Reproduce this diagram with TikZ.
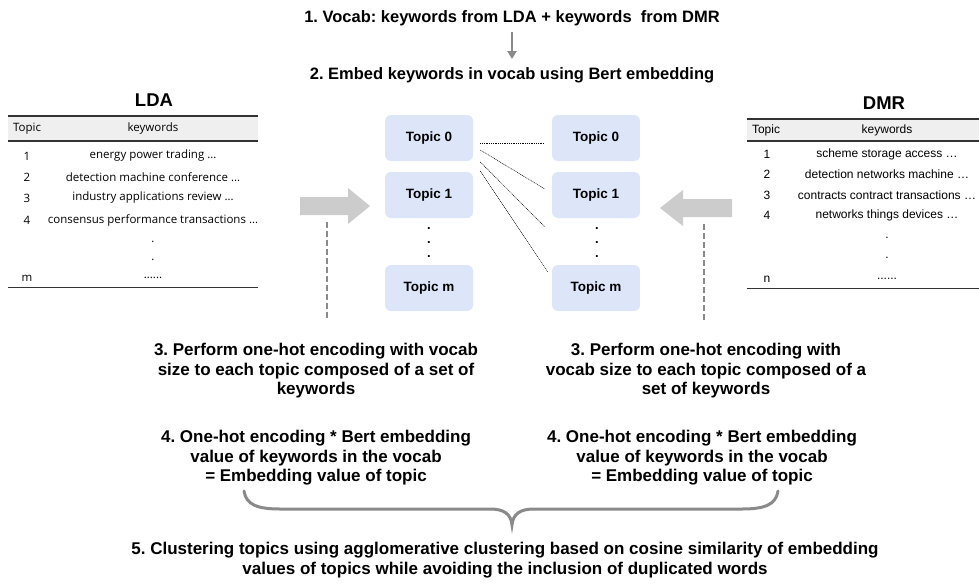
\documentclass[tikz,border=0pt]{standalone}
\usepackage{fontspec}
\setmainfont{Liberation Sans}
\newfontfamily\tabfont{Open Sans}
\usetikzlibrary{arrows.meta,positioning,calc}
\frenchspacing

\definecolor{topicblue}{HTML}{DDE5F9}
\definecolor{arrowgray}{HTML}{CCCCCC}
\definecolor{guidegray}{HTML}{8A8A8A}
\definecolor{headgray}{HTML}{EFEFEF}
\definecolor{rulegray}{HTML}{333333}

\begin{document}
\begin{tikzpicture}[
  x=1pt, y=-1pt,
  title/.style={font=\bfseries\fontsize{16.5}{19}\selectfont, inner sep=2pt},
  tblhead/.style={font=\bfseries\fontsize{18.5}{21}\selectfont, inner sep=0pt},
  cellA/.style={font=\tabfont\fontsize{11.5}{13}\selectfont, inner sep=0pt},
  cellB/.style={font=\fontsize{12}{14}\selectfont, inner sep=0pt},
  dotmark/.style={font=\bfseries\fontsize{13}{15}\selectfont, inner sep=0pt},
  topicbox/.style={rounded corners=6pt, fill=topicblue, minimum width=88pt,
    minimum height=46pt, font=\bfseries\fontsize{13.5}{16}\selectfont},
  stepnote/.style={font=\bfseries\fontsize{17}{19.5}\selectfont, align=center},
  guide/.style={draw=guidegray, line width=2.5pt, dash pattern=on 6pt off 3pt},
  link/.style={line width=0.5pt, dash pattern=on 1pt off 0.8pt},
  arrow/.style={-{Triangle[width=9pt,length=8pt]}, line width=2.6pt, draw=guidegray}
]
\useasboundingbox (0,0) rectangle (979,586);

% 上部（vocab）
\node[title] (t1) at (512,18) {1. Vocab: keywords from LDA + keywords\ \ from DMR};
\node[title] (t2) at (512,75) {2. Embed keywords in vocab using Bert embedding};
\draw[arrow, shorten <=4pt, shorten >=6pt] (t1.south) -- (t2.north);

% 左側（LDA）
\node[tblhead] (lda) at (154,100) {LDA};
\fill[headgray] (8,116) rectangle (258,141);
\draw[rulegray, line width=1.5pt] (8,116) -- (258,116);
\draw[rulegray, line width=1.5pt] (8,141) -- (258,141);
\draw[rulegray, line width=1pt] (8,287) -- (258,287);
\node[cellA] (ldaT) at (27,129) {Topic};
\node[cellA] (ldaK) at (153,129) {keywords};
\node[cellA] (lda1n) at (27,156) {1};
\node[cellA] (lda1k) at (153,156) {energy power trading …};
\node[cellA] (lda2n) at (27,177) {2};
\node[cellA] (lda2k) at (153,177) {detection machine conference …};
\node[cellA] (lda3n) at (27,198) {3};
\node[cellA] (lda3k) at (153,198) {industry applications review …};
\node[cellA] (lda4n) at (27,220) {4};
\node[cellA] (lda4k) at (153,220) {consensus performance transactions …};
\node[cellA] (ldaD1) at (153,242) {.};
\node[cellA] (ldaD2) at (153,260) {.};
\node[cellA] (ldamn) at (27,278) {m};
\node[cellA] (ldamk) at (153,278) {......};

% 右側（DMR）
\node[tblhead] (dmr) at (884,103) {DMR};
\fill[headgray] (747,119) rectangle (979,141);
\draw[rulegray, line width=1.5pt] (747,119) -- (979,119);
\draw[rulegray, line width=1.5pt] (747,141) -- (979,141);
\draw[rulegray, line width=1pt] (747,288) -- (979,288);
\node[cellB] (dmrT) at (766,130) {Topic};
\node[cellB] (dmrK) at (887,130) {keywords};
\node[cellB] (dmr1n) at (767,154) {1};
\node[cellB] (dmr1k) at (887,154) {scheme storage access …};
\node[cellB] (dmr2n) at (767,174) {2};
\node[cellB] (dmr2k) at (887,174) {detection networks machine …};
\node[cellB] (dmr3n) at (767,195) {3};
\node[cellB] (dmr3k) at (887,195) {contracts contract transactions …};
\node[cellB] (dmr4n) at (767,215) {4};
\node[cellB] (dmr4k) at (887,215) {networks things devices …};
\node[cellB] (dmrD1) at (887,238) {.};
\node[cellB] (dmrD2) at (887,258) {.};
\node[cellB] (dmrnn) at (767,279) {n};
\node[cellB] (dmrnk) at (887,279) {......};

% トピック
\node[topicbox] (l0) at (429,138) {Topic 0};
\node[topicbox] (l1) at (429,195) {Topic 1};
\node[dotmark] (ld1) at (429,229) {.};
\node[dotmark] (ld2) at (429,243) {.};
\node[dotmark] (ld3) at (429,257) {.};
\node[topicbox] (lm) at (429,288) {Topic m};

\node[topicbox] (r0) at (596,138) {Topic 0};
\node[topicbox] (r1) at (596,195) {Topic 1};
\node[dotmark] (rd1) at (597,229) {.};
\node[dotmark] (rd2) at (597,243) {.};
\node[dotmark] (rd3) at (597,257) {.};
\node[topicbox] (rm) at (596,288) {Topic m};

% 類似度
\draw[link] ([xshift=7pt,yshift=-5pt]l0.east) -- ([xshift=-7pt,yshift=-5pt]r0.west);
\draw[link] ([xshift=7pt,yshift=-12pt]l0.east) -- ([xshift=-7pt,yshift=6pt]r1.west);
\draw[link] ([xshift=7pt,yshift=-24pt]l0.east) -- ([xshift=-52pt,yshift=2pt]rd1.center);
\draw[link] ([xshift=7pt,yshift=-33pt]l0.east) -- ([xshift=-4pt,yshift=-7pt]rm.north west);

% 矢印
\fill[arrowgray] (300,197) -- (348,197) -- (348,188) -- (370,206)
  -- (348,224) -- (348,215) -- (300,215) -- cycle;
\fill[arrowgray] (732,199) -- (683,199) -- (683,190) -- (660,208)
  -- (683,226) -- (683,217) -- (732,217) -- cycle;
\coordinate (gLa) at (327,222);
\coordinate (gLb) at (327,320);
\coordinate (gRa) at (704,224);
\coordinate (gRb) at (704,320);
\draw[guide] (gLa) -- (gLb);
\draw[guide] (gRa) -- (gRb);

% 手順
\node[stepnote] (s3l) at (316,371) {3. Perform one-hot encoding with vocab\\size to each topic composed of a set of\\keywords};
\node[stepnote] (s3r) at (706,371) {3. Perform one-hot encoding with\\vocab size to each topic composed of a\\set of keywords};
\node[stepnote] (s4l) at (316,458) {4. One-hot encoding * Bert embedding\\value of keywords in the vocab\\= Embedding value of topic};
\node[stepnote] (s4r) at (702,458) {4. One-hot encoding * Bert embedding\\value of keywords in the vocab\\= Embedding value of topic};

% 括弧
\draw[guidegray, line width=3pt, line cap=round]
  (244,491) .. controls (246,505) and (258,509) .. (280,509) -- (490,509)
  .. controls (504,509) and (511,514) .. (512,525)
  .. controls (513,514) and (520,509) .. (534,509) -- (742,509)
  .. controls (764,509) and (776,505) .. (778,491);

\node[stepnote] (s5) at (505,560) {5. Clustering topics using agglomerative clustering based on cosine similarity of embedding\\values of topics while avoiding the inclusion of duplicated words};

\end{tikzpicture}
\end{document}
